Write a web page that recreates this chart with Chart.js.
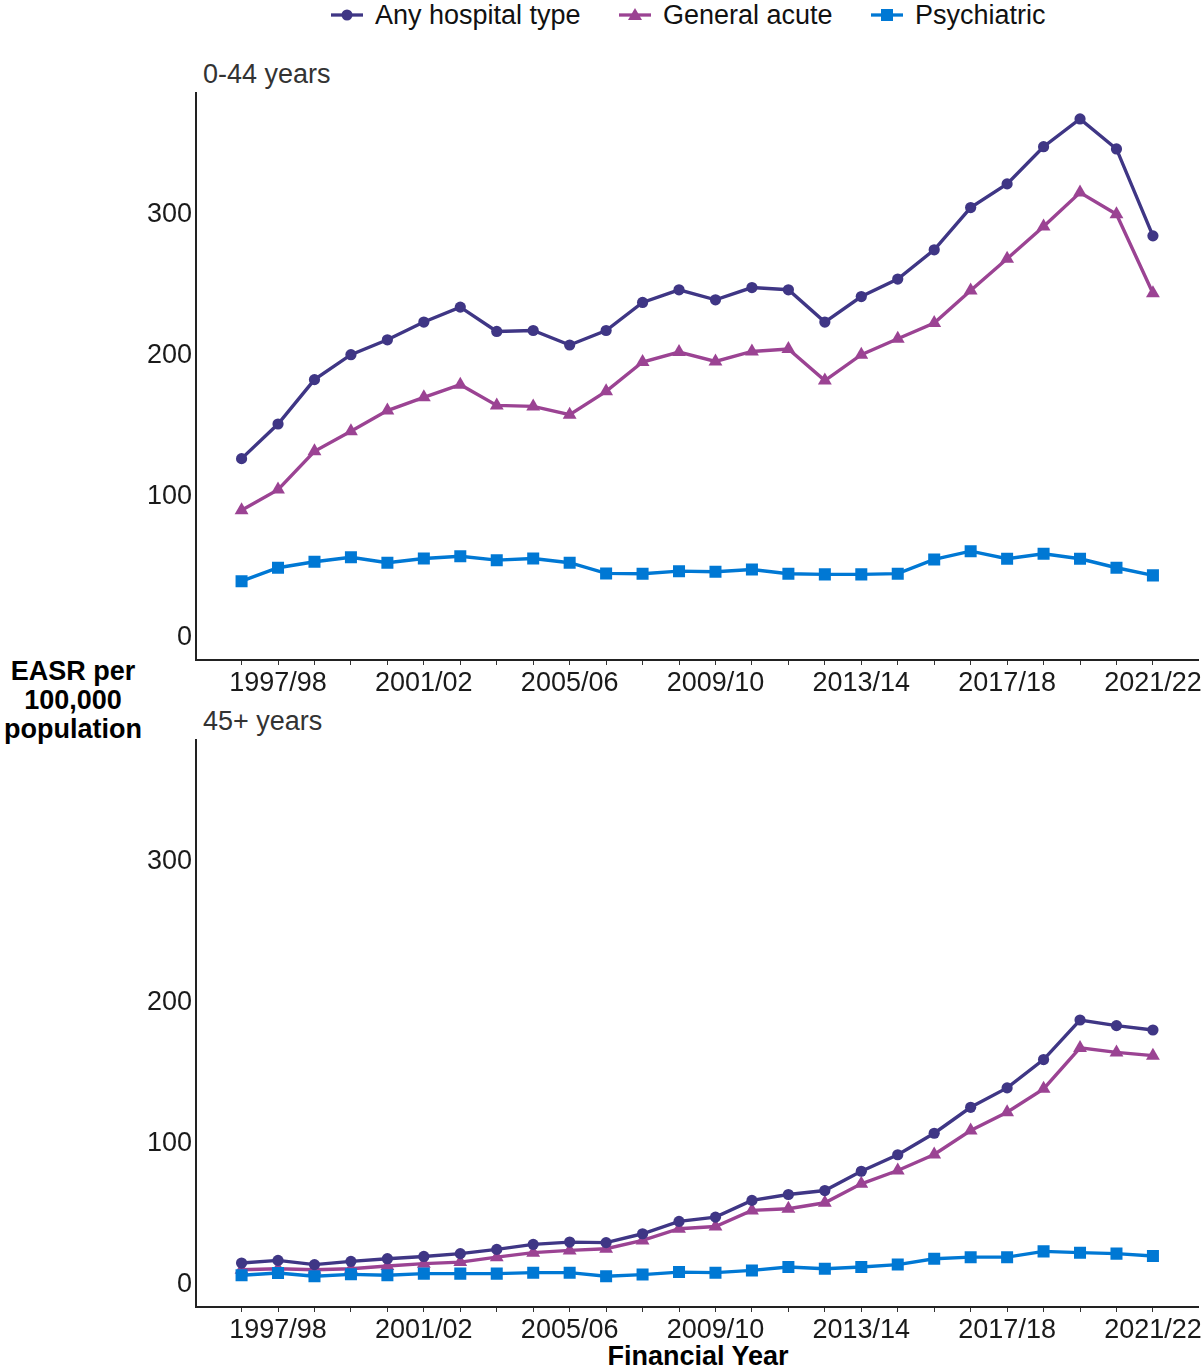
<!DOCTYPE html>
<html>
<head>
<meta charset="utf-8">
<script src="https://cdn.jsdelivr.net/npm/chart.js@4.4.1/dist/chart.umd.min.js"></script>
<style>
  body { margin: 0; background: #fff; font-family: "Liberation Sans", Arial, sans-serif; }
  #page { position: relative; width: 1202px; height: 1370px; overflow: hidden; }
  .abs { position: absolute; white-space: nowrap; }
  .leg { font-size: 27px; color: #111; top: 0; line-height: 30px; }
  .panel { font-size: 27px; color: #333; left: 203px; }
  .ylab { left: 0; width: 146px; top: 657px; font-size: 27px; font-weight: bold; text-align: center; line-height: 29px; color: #000; }
  .xlab { left: 586px; width: 224px; top: 1341px; font-size: 27px; font-weight: bold; text-align: center; color: #000; }
</style>
</head>
<body>
<div id="page">
  <svg class="abs" style="left:331px;top:8px" width="32" height="14"><line x1="0" y1="7" x2="32" y2="7" stroke="#3F3685" stroke-width="3.3"/><circle cx="16" cy="7" r="5.5" fill="#3F3685"/></svg>
  <div class="abs leg" style="left:375px">Any hospital type</div>
  <svg class="abs" style="left:619px;top:7px" width="32" height="16"><line x1="0" y1="8" x2="32" y2="8" stroke="#9B4393" stroke-width="3.3"/><polygon points="16,1 23,13 9,13" fill="#9B4393"/></svg>
  <div class="abs leg" style="left:663px">General acute</div>
  <svg class="abs" style="left:871px;top:8px" width="32" height="14"><line x1="0" y1="7" x2="32" y2="7" stroke="#0078D4" stroke-width="3.3"/><rect x="10" y="1" width="12" height="12" fill="#0078D4"/></svg>
  <div class="abs leg" style="left:915px">Psychiatric</div>

  <div class="abs panel" style="top:59px">0-44 years</div>
  <div class="abs panel" style="top:706px">45+ years</div>
  <div class="abs ylab">EASR per<br>100,000<br>population</div>
  <div class="abs xlab">Financial Year</div>

  <div class="abs" style="left:0;top:73px;width:1207px;height:627px"><canvas id="young"></canvas></div>
  <div class="abs" style="left:0;top:720px;width:1207px;height:627px"><canvas id="old"></canvas></div>
</div>
<script>
  const years = ['1996/97','1997/98','1998/99','1999/00','2000/01','2001/02','2002/03','2003/04','2004/05',
    '2005/06','2006/07','2007/08','2008/09','2009/10','2010/11','2011/12','2012/13','2013/14','2014/15',
    '2015/16','2016/17','2017/18','2018/19','2019/20','2020/21','2021/22'];
  const yTicks = [0, 100, 200, 300];

  // 0-44 years
  const anyYoung = [125.5,150.1,181.6,199.3,209.9,222.5,233.1,215.8,216.5,206.2,216.5,236.4,245.4,238.3,247.0,245.4,222.5,240.6,253.0,273.8,303.8,320.6,347.0,366.7,345.4,283.7];
  const acuteYoung = [88.9,103.5,130.7,144.9,159.6,169.0,178.0,163.3,162.6,156.7,173.3,194.1,201.2,194.5,201.6,203.3,180.9,199.3,210.6,221.8,244.9,267.4,290.3,314.4,299.1,243.0];
  const psychYoung = [38.5,48.0,52.3,55.5,51.6,54.6,56.2,53.4,54.6,51.6,44.0,43.8,45.6,45.2,46.8,43.8,43.3,43.3,43.8,53.9,59.8,54.4,57.9,54.4,48.0,42.6];

  // 45+ years
  const anyOld = [13.7,15.6,12.6,14.9,16.8,18.4,20.4,23.4,27.0,28.6,28.2,34.5,43.3,46.3,58.2,62.4,65.2,78.9,90.6,105.9,124.3,138.1,158.2,186.3,182.3,179.2];
  const acuteOld = [9.0,9.7,9.0,9.7,11.6,13.3,14.4,17.9,21.1,22.7,23.9,29.8,38.1,39.7,51.1,52.3,56.5,70.0,79.4,90.8,107.8,120.8,137.4,166.5,163.3,161.0];
  const psychOld = [5.0,6.6,4.3,5.7,5.0,6.2,6.2,6.2,6.9,6.9,4.3,5.5,7.3,6.9,8.5,10.9,9.7,10.9,12.6,16.8,17.9,17.9,22.0,21.1,20.4,18.7];

  Chart.defaults.font.family = '"Liberation Sans", Arial, sans-serif';
  Chart.defaults.color = '#1a1a1a';

  const toPoints = arr => arr.map((v, i) => ({ x: i, y: v }));

  function series(label, values, color, style, radius, order) {
    return {
      label, data: toPoints(values), order,
      borderColor: color, backgroundColor: color,
      borderWidth: 3.4, pointStyle: style, pointRadius: radius,
      pointBorderWidth: 0, pointBackgroundColor: color, tension: 0
    };
  }

  function makeChart(id, any, acute, psych, padTop) {
    new Chart(document.getElementById(id), {
      type: 'line',
      data: {
        datasets: [
          series('Any hospital type', any, '#3F3685', 'circle', 5.6, 1),
          series('General acute', acute, '#9B4393', 'triangle', 8, 2),
          series('Psychiatric', psych, '#0078D4', 'rect', 8.5, 0)
        ]
      },
      options: {
        responsive: true,
        maintainAspectRatio: false,
        animation: false,
        layout: { padding: { top: padTop, right: 2, left: 0, bottom: 0 } },
        plugins: { legend: { display: false }, tooltip: { enabled: false } },
        scales: {
          x: {
            type: 'linear', min: -1.25, max: 26.25,
            afterBuildTicks: s => { s.ticks = years.map((_, i) => ({ value: i })); },
            afterFit: s => { s.height = 40; },
            ticks: {
              autoSkip: false, maxRotation: 0, minRotation: 0, padding: 2,
              font: { size: 27 }, color: '#1a1a1a',
              callback: v => (v % 4 === 1 ? years[v] : '')
            },
            grid: { display: true, drawOnChartArea: false, drawTicks: true, tickLength: 5, color: '#333', lineWidth: 1 },
            border: { display: true, color: '#222', width: 2 }
          },
          y: {
            min: -17.5, max: 385,
            afterBuildTicks: s => { s.ticks = yTicks.map(v => ({ value: v })); },
            afterFit: s => { s.width = 196; },
            ticks: { padding: 4, labelOffset: 2, font: { size: 27 }, color: '#1a1a1a' },
            grid: { display: true, drawOnChartArea: false, drawTicks: false },
            border: { display: true, color: '#222', width: 2 }
          }
        }
      }
    });
  }

  makeChart('young', anyYoung, acuteYoung, psychYoung, 19.5);
  makeChart('old', anyOld, acuteOld, psychOld, 19.5);
</script>
</body>
</html>
